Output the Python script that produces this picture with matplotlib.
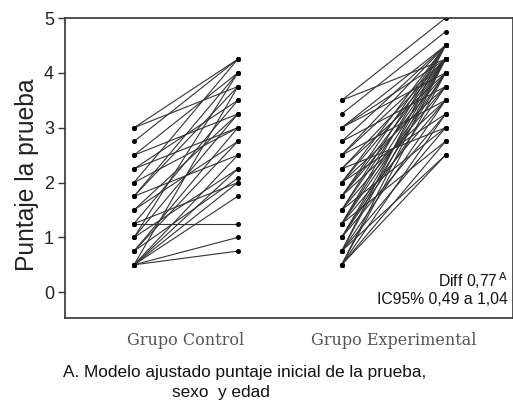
import matplotlib
matplotlib.use("Agg")
import matplotlib.pyplot as plt

# Control group: (pre, post) scores
control_pre = [3.0, 3.0, 2.75, 2.5, 2.5, 2.25, 2.0, 2.0, 1.75, 1.75, 1.75, 1.5, 1.5, 1.25, 1.25,
               1.0, 1.0, 0.75, 0.75, 0.75, 0.5, 0.5, 0.5, 0.5, 0.5, 0.5, 0.5, 1.25, 2.25, 1.0]
control_post = [4.25, 3.75, 4.25, 4.0, 3.25, 3.5, 4.25, 3.0, 4.0, 2.5, 3.75, 3.25, 2.75, 1.25, 3.5,
                2.25, 4.0, 3.0, 2.08, 2.75, 1.0, 0.75, 2.0, 1.75, 2.25, 3.75, 2.5, 2.0, 3.0, 3.25]

# Experimental group: (pre, post) scores
exp_pre = [3.5, 3.25, 3.0, 3.0, 3.0, 2.75, 2.75, 2.5, 2.5, 2.5, 2.25, 2.25, 2.25, 2.0, 2.0, 2.0, 2.0,
           1.75, 1.75, 1.75, 1.75, 1.5, 1.5, 1.5, 1.5, 1.25, 1.25, 1.25, 1.25, 1.25, 1.0, 1.0, 1.0, 1.0,
           0.75, 0.75, 0.75, 0.75, 0.75, 0.5, 0.5, 0.5, 0.5, 0.5, 3.5]
exp_post = [5.0, 4.75, 4.25, 4.5, 4.0, 4.5, 3.75, 4.25, 4.5, 3.5, 4.25, 4.0, 3.0, 4.5, 4.25, 3.75, 3.25,
            4.5, 4.0, 3.5, 4.25, 4.25, 4.5, 3.75, 3.0, 4.25, 4.0, 3.5, 2.75, 4.5, 4.25, 3.75, 3.25, 4.0,
            4.25, 3.5, 2.5, 3.0, 4.5, 4.0, 3.25, 2.75, 4.25, 2.5, 4.25]

group_labels = ["Grupo Control", "Grupo Experimental"]
y_ticks = [0, 1, 2, 3, 4, 5]
ylabel = "Puntaje la prueba"
diff_text = "Diff 0,77"
ci_text = "IC95% 0,49 a 1,04"
caption1 = "A. Modelo ajustado puntaje inicial de la prueba,"
caption2 = "sexo  y edad"

fig = plt.figure(figsize=(5.13, 4.01), dpi=100)
ax = fig.add_axes([0.127, 0.207, 0.873, 0.748])

line_kw = dict(color="#333333", lw=0.8, marker="o", ms=2.6, mfc="black", mec="black")
for a, b in zip(control_pre, control_post):
    ax.plot([0, 1], [a, b], **line_kw)
for a, b in zip(exp_pre, exp_post):
    ax.plot([2, 3], [a, b], **line_kw)

ax.set_xlim(-0.663, 3.65)
ax.set_ylim(-0.47, 5.0)
ax.set_yticks(y_ticks)
ax.set_yticklabels([str(t) for t in y_ticks], fontsize=13, color="#222222", family="Liberation Sans")
ax.set_xticks([0.5, 2.5])
ax.set_xticklabels(group_labels, fontsize=11.5, color="#555555", family="DejaVu Serif")
ax.tick_params(axis="x", length=0, pad=10)
ax.tick_params(axis="y", length=5, width=1, color="#333333", pad=3)
for s in ax.spines.values():
    s.set_color("#333333")
    s.set_linewidth(1.2)
ax.set_ylabel(ylabel, fontsize=17.7, family="Liberation Sans", color="#222222")
ax.yaxis.set_label_coords(-0.058, 0.477)

ax.text(0.988, 0.123, diff_text + r"$^{\,\mathrm{A}}$", transform=ax.transAxes, ha="right", va="center",
        fontsize=11.3, family="Liberation Sans", color="#111111")
ax.text(0.988, 0.06, ci_text, transform=ax.transAxes, ha="right", va="center",
        fontsize=11.3, family="Liberation Sans", color="#111111")

fig.text(0.123, 1 - 372 / 401, caption1, ha="left", va="center", fontsize=12.4,
         family="Liberation Sans", color="#111111")
fig.text(0.43, 1 - 393 / 401, caption2, ha="center", va="center", fontsize=12.4,
         family="Liberation Sans", color="#111111")

fig.savefig("out.png", dpi=100)
